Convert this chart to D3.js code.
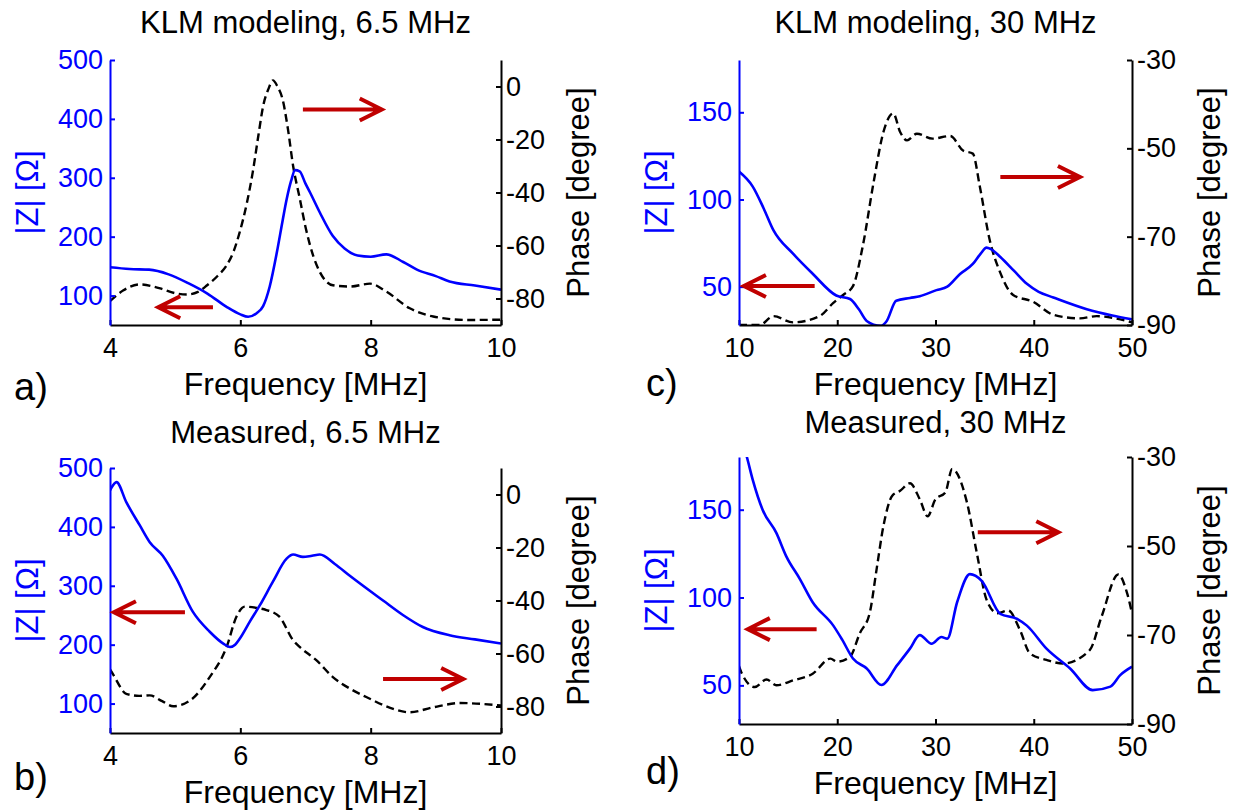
<!DOCTYPE html>
<html>
<head>
<meta charset="utf-8">
<script src="https://cdn.jsdelivr.net/npm/d3@7"></script>
<style>
  body { margin: 0; background: #fff; }
  svg text { font-family: "Liberation Sans", Arial, sans-serif; }
</style>
</head>
<body>
<svg id="chart" width="1233" height="810"></svg>
<script>
// ---- data ----
// a) KLM modeling, 6.5 MHz
const aZFreq = [4.0, 4.3, 4.6, 4.9, 5.2, 5.5, 5.8, 6.0, 6.12, 6.25, 6.35, 6.45, 6.56, 6.65, 6.71, 6.78, 6.84, 6.91, 7.0, 7.07, 7.22, 7.42, 7.6, 7.8, 8.0, 8.24, 8.5, 8.71, 9.0, 9.21, 9.6, 10.0];
const aZ = [148, 145, 144, 136, 121, 103, 80, 68, 64, 70, 82, 115, 173, 228, 263, 295, 313, 311, 290, 275, 241, 201, 180, 168, 166, 170, 157, 144, 133, 124, 117, 110];
const aPhFreq = [4.0, 4.2, 4.46, 4.77, 5.0, 5.18, 5.35, 5.49, 5.65, 5.79, 5.9, 5.99, 6.1, 6.19, 6.28, 6.35, 6.43, 6.5, 6.57, 6.65, 6.73, 6.81, 6.91, 7.0, 7.12, 7.22, 7.42, 7.68, 7.99, 8.24, 8.6, 8.96, 9.47, 10.0];
const aPh = [-81, -77, -74.7, -76.2, -78, -78.5, -77.5, -75, -71.5, -67.5, -62, -55, -44, -32.4, -18, -7.4, -1, 2.3, 0, -5, -16, -30, -42, -53, -64, -70, -75, -75.5, -74.4, -77.4, -83.7, -86.8, -88.1, -88];

// b) Measured, 6.5 MHz
const bZFreq = [4.0, 4.1, 4.25, 4.46, 4.61, 4.81, 5.02, 5.27, 5.53, 5.75, 5.84, 5.92, 5.99, 6.15, 6.3, 6.5, 6.71, 6.81, 6.96, 7.1, 7.22, 7.45, 7.68, 8.19, 8.5, 8.8, 9.21, 9.6, 10.0];
const bZ = [462, 476, 442, 402, 374, 351, 312, 256, 222, 201, 196, 200, 210, 240, 267, 307, 346, 353, 349, 351, 353, 337, 317, 275, 250, 230, 216, 209, 202];
const bPhFreq = [4.0, 4.05, 4.25, 4.45, 4.61, 4.8, 4.97, 5.23, 5.53, 5.79, 5.94, 6.07, 6.25, 6.4, 6.6, 6.81, 6.91, 7.17, 7.42, 7.7, 7.94, 8.3, 8.6, 8.96, 9.37, 10.0];
const bPh = [-66, -68, -75.2, -76, -75.8, -78, -79.9, -77.7, -68.9, -57.5, -46.1, -42.3, -42.8, -43.6, -46.1, -55, -57.5, -62.6, -68.9, -73.5, -76.5, -80.5, -82.2, -80.3, -78.7, -79.6];

// c) KLM modeling, 30 MHz
const cZFreq = [10, 11.4, 12.5, 13.5, 15.5, 17.5, 19.9, 21.3, 22.2, 23, 24.4, 25, 26, 27.4, 28.4, 30.1, 31.2, 32.5, 33.8, 34.6, 35.2, 35.8, 36.6, 38, 39.3, 40.5, 42, 45.4, 48, 50];
const cZ = [116, 107.4, 95, 82.4, 68.9, 57.4, 44.9, 42.9, 37, 30.3, 27.5, 30, 41.9, 43.5, 44.5, 48, 50, 57.3, 63, 69, 72.4, 71, 67, 59, 51.6, 47, 43.8, 37.1, 33.5, 31.3];
const cPhFreq = [10, 12.1, 13.5, 15.5, 18.2, 19.6, 20.6, 21.6, 22.6, 23.7, 24.7, 25.7, 26.4, 27.1, 28.1, 29.7, 31.5, 32.8, 33.8, 34.5, 35.5, 36.6, 37.9, 39.9, 42, 44.7, 46.4, 50];
const cPh = [-90, -90, -88, -89.4, -88, -85, -83.2, -81.2, -72.1, -57.7, -46.3, -42.1, -46.3, -48.2, -46.7, -47.8, -47.2, -50.5, -51.2, -58.5, -70.6, -78.2, -83.2, -84.7, -87.7, -88.5, -88, -89.4];

// d) Measured, 30 MHz
const dZFreq = [10, 10.8, 11.4, 12.4, 13.8, 14.8, 16.2, 17.5, 19.6, 20.5, 21.6, 23, 24.5, 26.1, 27.4, 28.4, 29.6, 30.6, 31.2, 32.2, 33.5, 34.7, 36.6, 38.3, 39.3, 41.3, 43.7, 46, 47.8, 48.8, 50];
const dZ = [195, 180, 167, 150, 136.8, 123.6, 110.5, 97.3, 84, 76, 65.3, 59.6, 50.2, 61.5, 70.9, 78.6, 73.7, 77.5, 76.6, 97.3, 113.3, 109.5, 90.7, 87.9, 84, 70.9, 59.6, 47.3, 49.3, 55.8, 60.6];
const dPhFreq = [10, 10.3, 11.6, 12.8, 13.8, 15.5, 17.5, 19.3, 20, 21.3, 22.3, 23.3, 24, 24.7, 25.6, 26.4, 27.4, 28.4, 29.2, 30, 31, 31.7, 33.2, 34.2, 35.2, 36.3, 37.4, 38.6, 39.6, 41.3, 43, 45.7, 46.9, 48.6, 49.5, 50];
const dPh = [-77, -78.7, -81.7, -80, -81.3, -80.2, -78.7, -75.3, -76, -74.9, -69.6, -65.1, -55.3, -45.5, -38.7, -37.6, -35.9, -39.5, -43.3, -39.5, -38, -32.7, -40.2, -51.5, -62.1, -65.1, -64.5, -68.9, -74.1, -75.6, -76.4, -73.4, -65.9, -56.4, -60.6, -65.1];

// tick values
const ticks65 = [4, 6, 8, 10];
const ticks30 = [10, 20, 30, 40, 50];
const zTicks65 = [100, 200, 300, 400, 500];
const zTicks30 = [50, 100, 150];
const phTicks65 = [-80, -60, -40, -20, 0];
const phTicks30 = [-90, -70, -50, -30];

// red arrows: [freqFrom, freqTo, value, axis]
const aArrows = [[6.96, 8.17, -8.7, "ph"], [5.58, 4.74, 80, "z"]];
const bArrows = [[5.15, 4.06, 255, "z"], [8.19, 9.42, -69.6, "ph"]];
const cArrows = [[17.7, 10.5, 50.4, "z"], [36.6, 44.7, -56.5, "ph"]];
const dArrows = [[17.9, 10.9, 82, "z"], [34.3, 42.5, -46.9, "ph"]];

const BLUE = "#0000ff";
const RED = "#c00000";
const TICK_FS = 27;

const svg = d3.select("#chart");

const panels = [
  { tag: "a)", title: "KLM modeling, 6.5 MHz", box: { l: 110, r: 501, t: 60, b: 325 }, titleY: 33, tagPos: [14, 400],
    xDom: [4, 10], xTicks: ticks65, zDom: [50, 500], zTicks: zTicks65, phDom: [-90, 10], phTicks: phTicks65,
    zF: aZFreq, z: aZ, pF: aPhFreq, p: aPh, arrows: aArrows },
  { tag: "b)", title: "Measured, 6.5 MHz", box: { l: 110, r: 501, t: 468, b: 733 }, titleY: 443, tagPos: [14, 790],
    xDom: [4, 10], xTicks: ticks65, zDom: [50, 500], zTicks: zTicks65, phDom: [-90, 10], phTicks: phTicks65,
    zF: bZFreq, z: bZ, pF: bPhFreq, p: bPh, arrows: bArrows },
  { tag: "c)", title: "KLM modeling, 30 MHz", box: { l: 739, r: 1132, t: 60, b: 325 }, titleY: 33, tagPos: [646, 396],
    xDom: [10, 50], xTicks: ticks30, zDom: [28, 180], zTicks: zTicks30, phDom: [-90, -30], phTicks: phTicks30,
    zF: cZFreq, z: cZ, pF: cPhFreq, p: cPh, arrows: cArrows },
  { tag: "d)", title: "Measured, 30 MHz", box: { l: 739, r: 1132, t: 457, b: 724 }, titleY: 433, tagPos: [646, 784],
    xDom: [10, 50], xTicks: ticks30, zDom: [28, 180], zTicks: zTicks30, phDom: [-90, -30], phTicks: phTicks30,
    zF: dZFreq, z: dZ, pF: dPhFreq, p: dPh, arrows: dArrows }
];

const intFmt = (d) => d3.format("d")(d).replace("−", "-");

const drawPanel = (cfg, i) => {
  const { l, r, t, b } = cfg.box;
  const x = d3.scaleLinear().domain(cfg.xDom).range([l, r]);
  const yZ = d3.scaleLinear().domain(cfg.zDom).range([b, t]);
  const yP = d3.scaleLinear().domain(cfg.phDom).range([b, t]);
  const g = svg.append("g");

  svg.append("clipPath").attr("id", `clip${i}`)
    .append("rect").attr("x", l).attr("y", t).attr("width", r - l).attr("height", b - t);

  const plot = g.append("g").attr("clip-path", `url(#clip${i})`);

  // phase, dashed black
  plot.append("path")
    .datum(cfg.pF.map((f, k) => [f, cfg.p[k]]))
    .attr("fill", "none")
    .attr("stroke", "#000")
    .attr("stroke-width", 2.4)
    .attr("stroke-dasharray", "8,4.5")
    .attr("d", d3.line().x((d) => x(d[0])).y((d) => yP(d[1])).curve(d3.curveMonotoneX));

  // |Z|, solid blue
  plot.append("path")
    .datum(cfg.zF.map((f, k) => [f, cfg.z[k]]))
    .attr("fill", "none")
    .attr("stroke", BLUE)
    .attr("stroke-width", 2.6)
    .attr("d", d3.line().x((d) => x(d[0])).y((d) => yZ(d[1])).curve(d3.curveMonotoneX));

  // axes (MATLAB style: ticks inside)
  const xAxis = g.append("g").attr("transform", `translate(0,${b})`)
    .call(d3.axisBottom(x).tickValues(cfg.xTicks).tickFormat(intFmt).tickSizeInner(-5).tickSizeOuter(0).tickPadding(13));
  xAxis.select(".domain").attr("stroke-width", 2);
  xAxis.selectAll(".tick line").attr("stroke-width", 2);
  xAxis.selectAll("text").attr("font-size", TICK_FS).attr("fill", "#000");

  const zAxis = g.append("g").attr("transform", `translate(${l},0)`)
    .call(d3.axisLeft(yZ).tickValues(cfg.zTicks).tickFormat(intFmt).tickSizeInner(-5).tickSizeOuter(0).tickPadding(7));
  zAxis.select(".domain").attr("stroke", BLUE).attr("stroke-width", 2);
  zAxis.selectAll(".tick line").attr("stroke", BLUE).attr("stroke-width", 2);
  zAxis.selectAll("text").attr("font-size", TICK_FS).attr("fill", BLUE);

  const pAxis = g.append("g").attr("transform", `translate(${r},0)`)
    .call(d3.axisRight(yP).tickValues(cfg.phTicks).tickFormat(intFmt).tickSizeInner(-5).tickSizeOuter(0).tickPadding(5));
  pAxis.select(".domain").attr("stroke-width", 2);
  pAxis.selectAll(".tick line").attr("stroke-width", 2);
  pAxis.selectAll("text").attr("font-size", TICK_FS).attr("fill", "#000");

  // labels
  g.append("text").attr("x", (l + r) / 2).attr("y", cfg.titleY)
    .attr("text-anchor", "middle").attr("font-size", 31).text(cfg.title);
  g.append("text").attr("x", (l + r) / 2).attr("y", b + 70)
    .attr("text-anchor", "middle").attr("font-size", 32).text("Frequency [MHz]");
  g.append("text").attr("transform", `translate(${l - 72},${(t + b) / 2}) rotate(-90)`)
    .attr("text-anchor", "middle").attr("font-size", 31).attr("fill", BLUE).text("|Z| [Ω]");
  g.append("text").attr("transform", `translate(${r + 88},${(t + b) / 2}) rotate(-90)`)
    .attr("text-anchor", "middle").attr("font-size", 31).text("Phase [degree]");
  g.append("text").attr("x", cfg.tagPos[0]).attr("y", cfg.tagPos[1])
    .attr("font-family", "Open Sans").attr("font-size", 38).text(cfg.tag);

  // red arrows
  cfg.arrows.forEach(([f0, f1, v, ax]) => {
    const yy = ax === "z" ? yZ(v) : yP(v);
    const x0 = x(f0), x1 = x(f1);
    const dir = Math.sign(x1 - x0);
    g.append("path")
      .attr("fill", "none")
      .attr("stroke", RED)
      .attr("stroke-width", 4)
      .attr("d", `M${x0},${yy}H${x1}M${x1 - dir * 22},${yy - 11}L${x1},${yy}L${x1 - dir * 22},${yy + 11}`);
  });
};

panels.forEach(drawPanel);
</script>
</body>
</html>
